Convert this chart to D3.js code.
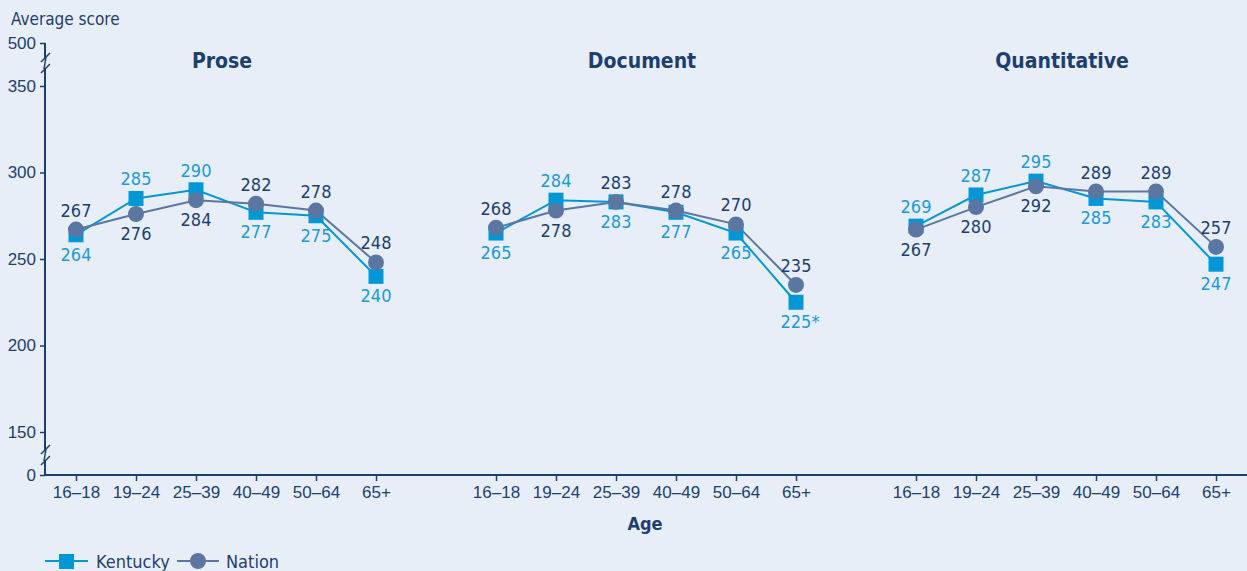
<!DOCTYPE html>
<html>
<head>
<meta charset="utf-8">
<script src="https://cdn.jsdelivr.net/npm/d3@7"></script>
<style>
  body { margin: 0; background: #e8eef8; }
  svg { display: block; font-family: "DejaVu Sans", sans-serif; font-stretch: condensed; }
  .tick text { font-size: 17px; fill: #1c3f6e; }
  .tick line { stroke: #1c3f6e; stroke-width: 1.5; }
  .lbl { font-size: 18px; }
</style>
</head>
<body>
<svg id="chart"></svg>
<script>
// data
var ages = ["16–18", "19–24", "25–39", "40–49", "50–64", "65+"];
var panels = ["Prose", "Document", "Quantitative"];
var kentucky = [
  [264, 285, 290, 277, 275, 240],
  [265, 284, 283, 277, 265, 225],
  [269, 287, 295, 285, 283, 247]
];
var nation = [
  [267, 276, 284, 282, 278, 248],
  [268, 278, 283, 278, 270, 235],
  [267, 280, 292, 289, 289, 257]
];
// label text (225 is flagged as significant)
var kyText = [
  ["264", "285", "290", "277", "275", "240"],
  ["265", "284", "283", "277", "265", "225*"],
  ["269", "287", "295", "285", "283", "247"]
];
// +1 = label above the point, -1 = below
var kyPos = [
  [-1, 1, 1, -1, -1, -1],
  [-1, 1, -1, -1, -1, -1],
  [1, 1, 1, -1, -1, -1]
];
var natPos = [
  [1, -1, -1, 1, 1, 1],
  [1, -1, 1, 1, 1, 1],
  [-1, -1, -1, 1, 1, 1]
];
var yTicks = [0, 150, 200, 250, 300, 350, 500];

var w = 1247, h = 571;
var kyColor = "#0097d7", natColor = "#5b77a1", dark = "#1c3f6e", kyLabel = "#1b9ad6";

var svg = d3.select("#chart").attr("width", w).attr("height", h);

// broken y scale: 0 and 500 squeezed in beyond the breaks
var yScale = d3.scaleLinear()
  .domain([0, 150, 350, 500])
  .range([475, 432, 86, 43]);

var axisX = 45;

// y axis
var yAxis = d3.axisLeft(yScale).tickValues(yTicks).tickSize(5).tickSizeOuter(0).tickPadding(4);
var gy = svg.append("g")
  .attr("transform", "translate(" + axisX + ",0)")
  .call(yAxis);
gy.select(".domain").remove();

svg.append("line")
  .attr("x1", axisX).attr("x2", axisX)
  .attr("y1", 43).attr("y2", 476)
  .attr("stroke", dark).attr("stroke-width", 2);

// axis break marks
[63, 455].forEach(function(by) {
  svg.append("rect")
    .attr("x", axisX - 3).attr("y", by - 5).attr("width", 6).attr("height", 10)
    .attr("fill", "#e8eef8");
  svg.append("path")
    .attr("d", "M" + (axisX - 4) + "," + (by - 1) + " L" + (axisX + 5) + "," + (by - 10) +
               " M" + (axisX - 4) + "," + (by + 10) + " L" + (axisX + 5) + "," + (by + 1) +
               " M" + (axisX + 1) + "," + (by - 6) + " L" + (axisX - 1) + "," + (by + 6))
    .attr("stroke", dark).attr("stroke-width", 1.5).attr("fill", "none");
});

// x axis line
svg.append("line")
  .attr("x1", axisX).attr("x2", w)
  .attr("y1", 475).attr("y2", 475)
  .attr("stroke", dark).attr("stroke-width", 2);

svg.append("text")
  .text("Average score")
  .attr("x", 11).attr("y", 25)
  .attr("font-size", 17).attr("fill", dark);

panels.forEach(function(name, p) {
  var x0 = 76 + 420 * p;
  var xScale = d3.scalePoint().domain(ages).range([x0, x0 + 300]);

  var gx = svg.append("g")
    .attr("transform", "translate(0,475)")
    .call(d3.axisBottom(xScale).tickSize(6).tickSizeOuter(0).tickPadding(5));
  gx.select(".domain").remove();
  gx.selectAll(".tick line").attr("y1", 1);

  svg.append("text")
    .text(name)
    .attr("x", x0 + 146).attr("y", 68)
    .attr("text-anchor", "middle")
    .attr("font-size", 21).attr("font-weight", "bold").attr("fill", dark);

  var line = d3.line()
    .x(function(d, i) { return xScale(ages[i]); })
    .y(function(d) { return yScale(d); });

  svg.append("path")
    .attr("d", line(kentucky[p]))
    .attr("fill", "none").attr("stroke", kyColor).attr("stroke-width", 2);
  svg.append("path")
    .attr("d", line(nation[p]))
    .attr("fill", "none").attr("stroke", natColor).attr("stroke-width", 2);

  svg.selectAll(".ky" + p)
    .data(kentucky[p])
    .enter()
    .append("rect")
    .attr("x", function(d, i) { return xScale(ages[i]) - 7.5; })
    .attr("y", function(d) { return yScale(d) - 7.5; })
    .attr("width", 15).attr("height", 15)
    .attr("fill", kyColor);

  svg.selectAll(".nat" + p)
    .data(nation[p])
    .enter()
    .append("circle")
    .attr("cx", function(d, i) { return xScale(ages[i]); })
    .attr("cy", function(d) { return yScale(d); })
    .attr("r", 8)
    .attr("fill", natColor);

  kentucky[p].forEach(function(v, i) {
    svg.append("text")
      .attr("class", "lbl")
      .text(kyText[p][i])
      .attr("x", xScale(ages[i]) + (kyText[p][i].length > 3 ? 4 : 0))
      .attr("y", yScale(v) + (kyPos[p][i] > 0 ? -13 : 26))
      .attr("text-anchor", "middle")
      .attr("fill", kyLabel);
  });
  nation[p].forEach(function(v, i) {
    svg.append("text")
      .attr("class", "lbl")
      .text(String(v))
      .attr("x", xScale(ages[i]))
      .attr("y", yScale(v) + (natPos[p][i] > 0 ? -13 : 26))
      .attr("text-anchor", "middle")
      .attr("fill", dark);
  });
});

svg.append("text")
  .text("Age")
  .attr("x", 645).attr("y", 530)
  .attr("text-anchor", "middle")
  .attr("font-size", 18).attr("font-weight", "bold").attr("fill", dark);

// legend
svg.append("line").attr("x1", 45).attr("x2", 88).attr("y1", 561).attr("y2", 561)
  .attr("stroke", kyColor).attr("stroke-width", 2);
svg.append("rect").attr("x", 59).attr("y", 554).attr("width", 15).attr("height", 15)
  .attr("fill", kyColor);
svg.append("text").text("Kentucky").attr("x", 96).attr("y", 568)
  .attr("font-size", 18).attr("fill", dark);

svg.append("line").attr("x1", 177).attr("x2", 219).attr("y1", 561).attr("y2", 561)
  .attr("stroke", natColor).attr("stroke-width", 2);
svg.append("circle").attr("cx", 198).attr("cy", 561).attr("r", 8)
  .attr("fill", natColor);
svg.append("text").text("Nation").attr("x", 226).attr("y", 568)
  .attr("font-size", 18).attr("fill", dark);
</script>
</body>
</html>
